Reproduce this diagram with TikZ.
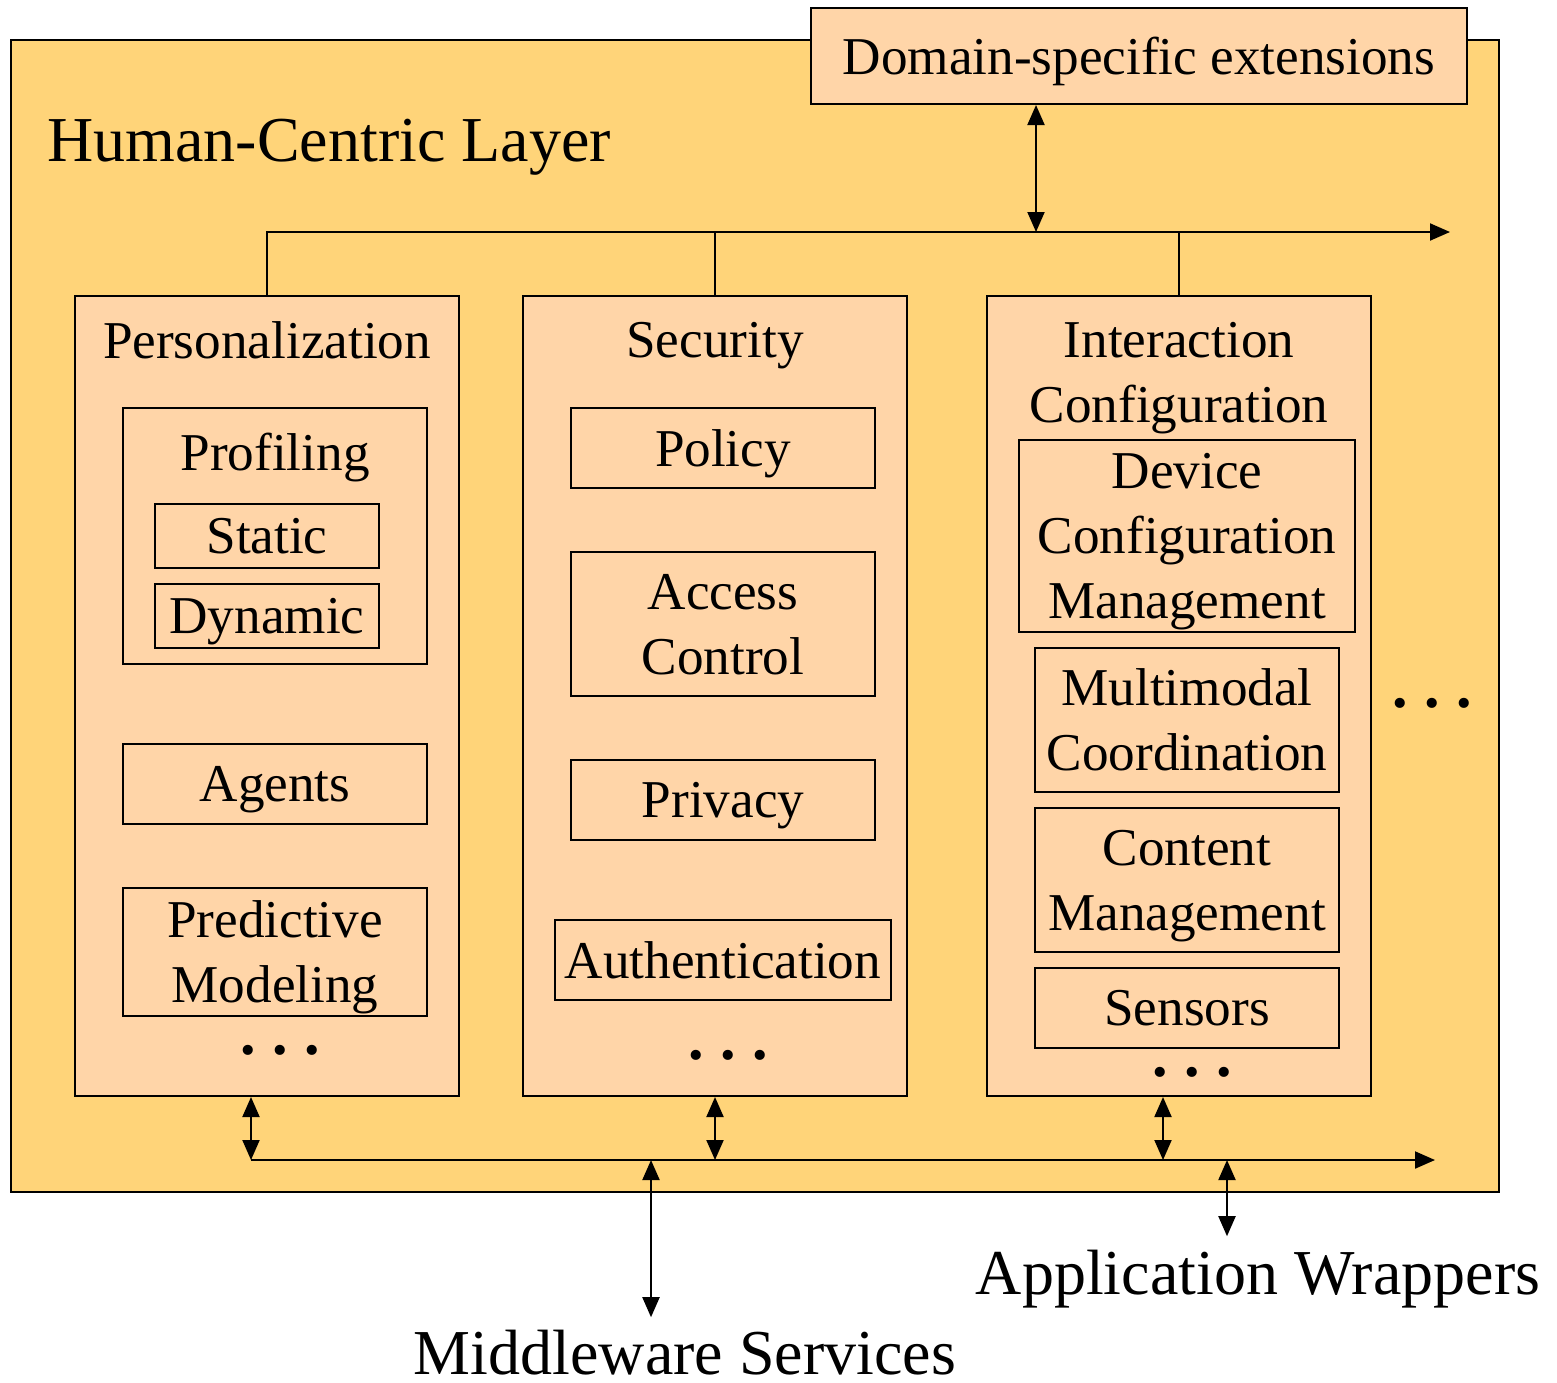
\documentclass[tikz,border=0pt]{standalone}
\usepackage{fontspec}
\setmainfont{Liberation Serif}
\usetikzlibrary{arrows.meta,fit}
\definecolor{layerfill}{RGB}{255,212,121}
\definecolor{boxfill}{RGB}{255,213,168}
\begin{document}
\begin{tikzpicture}[x=0.5pt,y=-0.5pt,
  every node/.style={font=\fontsize{26.6pt}{32.5pt}\selectfont},
  layer/.style={draw, line width=1pt, fill=layerfill, inner sep=0pt},
  box/.style={draw, line width=1pt, fill=boxfill, inner sep=0pt, align=center, text depth=0pt},
  sz/.style 2 args={minimum width=#1*0.5pt, minimum height=#2*0.5pt},
  big/.style={font=\fontsize{32pt}{38pt}\selectfont},
  conn/.style={line width=1pt},
  oneway/.style={conn, -{Triangle[length=10pt,width=8.5pt]}},
  twoway/.style={conn, {Triangle[length=10pt,width=8.5pt]}-{Triangle[length=10pt,width=8.5pt]}},
  dotrow/.style={inner sep=0pt, font=\fontsize{31pt}{38pt}\selectfont\bfseries}
]
\useasboundingbox (0,0) rectangle (1557,1382);

% outer layer
\node[layer, fit={(11,40) (1499,1192)}] (layer) {};
\node[big, anchor=base west, inner sep=0pt] (title) at (47,161) {Human-Centric Layer};

% domain box
\node[box, sz={656}{96}] (dom) at (1139,56) {Domain-specific extensions};

% columns
\node[box, fit={(75,296) (459,1096)}] (pers) {};
\node[box, fit={(523,296) (907,1096)}] (sec) {};
\node[box, fit={(987,296) (1371,1096)}] (inter) {};

\node (perst) at (267,340) {Personalization};
\node (sect) at (715,346) {Security};
\node[align=center] (intert) at (1179,378) {Interaction\\Configuration};

% personalization
\node[box, fit={(123,408) (427,664)}] (prof) {};
\node (proft) at (275,458) {Profiling};
\node[box, sz={224}{64}] (static) at (267,536) {Static};
\node[box, sz={224}{64}] (dynamic) at (267,616) {Dynamic};
\node[box, sz={304}{80}] (agents) at (275,784) {Agents};
\node[box, sz={304}{128}] (pred) at (275,952) {Predictive\\Modeling};
\node[dotrow] (pdots) at (280,1050) {.\hspace{8.25pt}.\hspace{8.25pt}.};

% security
\node[box, sz={304}{80}] (policy) at (723,448) {Policy};
\node[box, sz={304}{144}] (access) at (723,624) {Access\\Control};
\node[box, sz={304}{80}] (privacy) at (723,800) {Privacy};
\node[box, sz={336}{80}] (auth) at (723,960) {Authentication};
\node[dotrow] (sdots) at (728,1055) {.\hspace{8.25pt}.\hspace{8.25pt}.};

% interaction configuration
\node[box, sz={336}{192}] (device) at (1187,536) {Device\\Configuration\\Management};
\node[box, sz={304}{144}] (multi) at (1187,720) {Multimodal\\Coordination};
\node[box, sz={304}{144}] (content) at (1187,880) {Content\\Management};
\node[box, sz={304}{80}] (sensors) at (1187,1008) {Sensors};
\node[dotrow] (idots) at (1192,1072) {.\hspace{8.25pt}.\hspace{8.25pt}.};

% more columns
\node[dotrow] (rdots) at (1432,703) {.\hspace{8.25pt}.\hspace{8.25pt}.};

% external labels
\node[big, anchor=base, inner sep=0pt] (mwl) at (685,1374) {Middleware Services};
\node[big, anchor=base, inner sep=0pt] (awl) at (1258,1294) {Application Wrappers};
\coordinate (mwtop) at ([yshift=6pt]mwl.north);
\coordinate (awtop) at ([yshift=6.5pt]awl.north);

% top bus
\coordinate (tj) at (1036,232);
\coordinate (tend) at (1450,232);
\draw[oneway] (pers.north) |- (tend);
\draw[conn] (sec.north) -- (sec.north |- tend);
\draw[conn] (inter.north) -- (inter.north |- tend);
\draw[twoway] (tj |- dom.south) -- (tj);

% bottom bus
\coordinate (b1) at (251,1160);
\coordinate (bend) at (1435,1160);
\draw[oneway] (b1) -- (bend);
\draw[twoway] (b1 |- pers.south) -- (b1);
\coordinate (b2) at (715,1160);
\draw[twoway] (b2 |- sec.south) -- (b2);
\coordinate (b3) at (1163,1160);
\draw[twoway] (b3 |- inter.south) -- (b3);
\coordinate (bm) at (651,1160);
\draw[twoway] (bm) -- (bm |- mwtop);
\coordinate (ba) at (1227,1160);
\draw[twoway] (ba) -- (ba |- awtop);
\end{tikzpicture}
\end{document}
